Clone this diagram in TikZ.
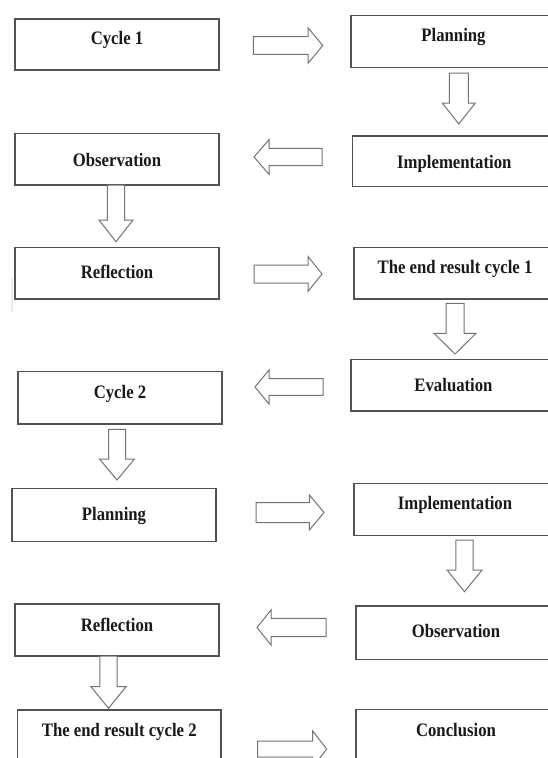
\documentclass[tikz,border=0pt]{standalone}
\usepackage{fontspec}
\newfontfamily\lblfont{Liberation Serif}[FakeStretch=0.88]
\usetikzlibrary{fit}
\tikzset{
  boxstyle/.style={draw=black!68, line width=1.1pt, inner sep=0pt, rectangle},
  lbl/.style={font=\lblfont\bfseries\fontsize{19}{22}\selectfont, text=black!90, inner sep=0pt, anchor=base},
  blk/.style={draw=black!55, line width=1pt, line join=miter, fill=white}
}
% name, x1, y1, x2, y2, baseline, text
\newcommand\bx[7]{%
  \node[boxstyle, fit={(#2,#3) (#4,#5)}] (#1) {};
  \node[lbl] (#1-t) at ({(#2+#4)/2},#6) {#7};}
% tail x, neck x, tip x, centre y, shaft half, head half
\newcommand\harr[6]{%
  \draw[blk] (#1,#4-#5) -- (#2,#4-#5) -- (#2,#4-#6) -- (#3,#4) -- (#2,#4+#6) -- (#2,#4+#5) -- (#1,#4+#5) -- cycle;}
% centre x, top y, neck y, tip y, shaft half, head half
\newcommand\varr[6]{%
  \draw[blk] (#1-#5,#2) -- (#1-#5,#3) -- (#1-#6,#3) -- (#1,#4) -- (#1+#6,#3) -- (#1+#5,#3) -- (#1+#5,#2) -- cycle;}
\begin{document}
\begin{tikzpicture}[x=1pt,y=-1pt]
\useasboundingbox (0,0) rectangle (548,758);
\clip (0,0) rectangle (548,758);
\fill[white] (0,0) rectangle (548,758);
\draw[black!8, line width=1.5pt] (12,278) -- (12,312);
% boxes
\bx{c1}{15}{19}{219}{70}{44.3}{Cycle 1}
\bx{p1}{351}{15.7}{556}{67.3}{41.7}{Planning}
\bx{i1}{352.7}{136}{556}{186.7}{168.3}{Implementation}
\bx{o1}{15}{133.3}{219}{185}{166.7}{Observation}
\bx{r1}{15}{247.3}{219}{299}{278.3}{Reflection}
\bx{e1}{354}{247.3}{556}{299}{273.3}{The end result cycle 1}
\bx{ev}{351}{359.3}{556}{411}{391.7}{Evaluation}
\bx{c2}{18}{371.7}{222}{424}{398.3}{Cycle 2}
\bx{p2}{12}{488.3}{216}{541.7}{520.7}{Planning}
\bx{i2}{354}{483.3}{556}{535.7}{509.3}{Implementation}
\bx{o2}{356}{606}{556}{659.3}{637.7}{Observation}
\bx{r2}{15}{604}{219}{656}{631}{Reflection}
\bx{e2}{17.5}{710}{221}{775}{736.7}{The end result cycle 2}
\bx{cc}{356}{709.3}{556}{775}{736}{Conclusion}
% block arrows
\harr{253.3}{308}{322.7}{45.5}{8.8}{17.8}
\varr{458.8}{73}{103}{124}{9.5}{16.5}
\harr{322}{269}{254}{157}{8.7}{17.3}
\varr{116}{185}{220}{241.7}{8.7}{17}
\harr{254}{308}{322}{274}{9}{17.5}
\varr{455}{303.3}{333.3}{354}{9}{21}
\harr{323}{269}{255}{387}{8.3}{17}
\varr{117}{429.3}{459}{480}{8.5}{17.5}
\harr{256}{309.4}{324}{512.5}{10}{17.5}
\varr{464.5}{540}{570}{591.7}{8.7}{17.5}
\harr{326}{271}{257}{627.5}{9.2}{17.5}
\varr{108.5}{656}{686.7}{708.3}{8.7}{17.5}
\harr{257.7}{312.7}{326.7}{749}{8}{18}
\end{tikzpicture}
\end{document}
